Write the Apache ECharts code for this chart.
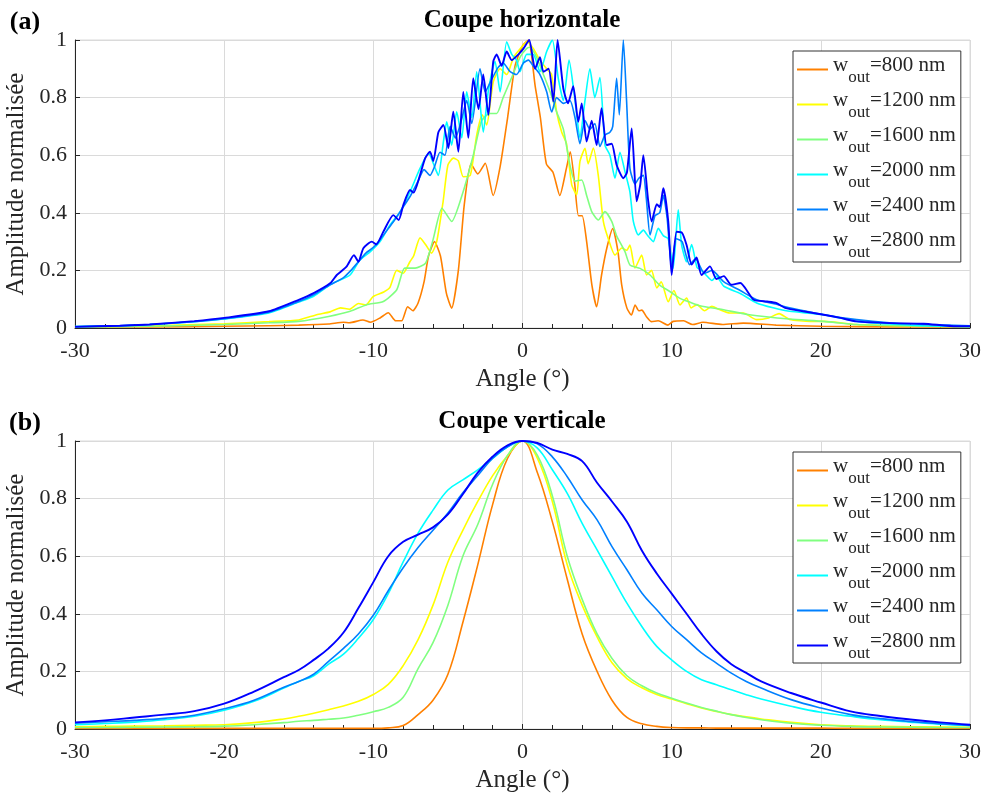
<!DOCTYPE html>
<html><head><meta charset="utf-8">
<script src="https://cdn.jsdelivr.net/npm/echarts@6/dist/echarts.min.js"></script>
<style>html,body{margin:0;padding:0;background:#fff}#c{width:984px;height:796px}</style>
</head><body><div id="c"></div>
<script>
// ---------- DATA ----------
const widths = ['800', '1200', '1600', '2000', '2400', '2800'];
const lineColors = ['#FF8000', '#FFFF00', '#80FF80', '#00FFFF', '#0080FF', '#0000FF'];
const xTicks = [-30, -20, -10, 0, 10, 20, 30];
const yTicks = [0, 0.2, 0.4, 0.6, 0.8, 1];

// (a) Coupe horizontale : [angle, amplitude]
const h800 = [[-30,0.003],[-25,0.004],[-20,0.006],[-17,0.008],[-15,0.01],[-13,0.014],[-12,0.02],[-11.6,0.018],[-10.7,0.028],[-10.2,0.02],[-9.55,0.035],[-9.0,0.053],[-8.5,0.025],[-8.1,0.025],[-7.7,0.074],[-7.35,0.06],[-7.0,0.087],[-6.6,0.16],[-6.3,0.25],[-5.9,0.30],[-5.5,0.25],[-5.1,0.12],[-4.75,0.069],[-4.3,0.2],[-3.9,0.43],[-3.45,0.57],[-3.0,0.535],[-2.5,0.572],[-1.97,0.46],[-1.5,0.56],[-1.0,0.73],[-0.5,0.91],[0,0.98],[0.4,1.0],[0.85,0.84],[1.2,0.73],[1.6,0.57],[2.05,0.54],[2.5,0.46],[2.95,0.556],[3.2,0.612],[3.5,0.50],[3.75,0.39],[4.0,0.39],[4.3,0.30],[4.65,0.15],[4.97,0.074],[5.3,0.184],[5.65,0.277],[6.05,0.345],[6.4,0.265],[6.65,0.15],[7.0,0.069],[7.3,0.045],[7.55,0.08],[7.8,0.06],[8.0,0.062],[8.3,0.04],[8.65,0.022],[9.1,0.025],[9.75,0.01],[10.1,0.023],[10.8,0.025],[11.4,0.012],[12.1,0.02],[13.4,0.012],[14.8,0.017],[17,0.01],[20,0.006],[25,0.004],[30,0.003]];
const h1200 = [[-30,0.004],[-25,0.007],[-20,0.015],[-17,0.022],[-15,0.028],[-13.8,0.046],[-12.9,0.056],[-12.2,0.07],[-11.6,0.065],[-11.0,0.085],[-10.5,0.08],[-10.0,0.11],[-9.3,0.125],[-8.9,0.14],[-8.43,0.2],[-8.0,0.19],[-7.55,0.23],[-7.3,0.25],[-6.87,0.313],[-6.5,0.29],[-6.1,0.26],[-5.75,0.3],[-5.32,0.44],[-5.0,0.566],[-4.64,0.59],[-4.3,0.58],[-3.97,0.525],[-3.5,0.53],[-3.07,0.67],[-2.7,0.74],[-2.4,0.705],[-1.96,0.855],[-1.5,0.9],[-1.06,0.88],[-0.6,0.94],[-0.15,0.97],[0.3,0.995],[0.73,0.97],[1.17,0.93],[1.62,0.90],[1.95,0.88],[2.29,0.75],[2.63,0.68],[2.95,0.64],[3.3,0.497],[3.63,0.462],[3.85,0.578],[4.19,0.624],[4.4,0.57],[4.75,0.625],[5.08,0.53],[5.42,0.37],[5.75,0.31],[6.2,0.253],[6.65,0.278],[6.98,0.27],[7.2,0.288],[7.54,0.208],[7.99,0.253],[8.32,0.184],[8.65,0.2],[9.0,0.139],[9.3,0.16],[9.77,0.091],[10.15,0.13],[10.56,0.08],[11.0,0.104],[11.3,0.07],[11.7,0.081],[12.2,0.06],[12.7,0.075],[13.2,0.064],[13.9,0.052],[14.8,0.052],[15.7,0.029],[16.5,0.035],[17.2,0.05],[17.9,0.03],[19.3,0.023],[20.2,0.023],[22.4,0.012],[25,0.008],[30,0.005]];
const h1600 = [[-30,0.003],[-25,0.006],[-20,0.012],[-17,0.018],[-15,0.023],[-13,0.04],[-11.55,0.058],[-10.45,0.081],[-9.33,0.092],[-8.43,0.133],[-7.9,0.208],[-7.2,0.208],[-6.5,0.225],[-6.0,0.306],[-5.4,0.416],[-4.75,0.37],[-4.0,0.47],[-3.3,0.60],[-2.74,0.72],[-2.2,0.745],[-1.73,0.745],[-1.3,0.8],[-0.72,0.87],[-0.17,0.94],[0.27,0.97],[0.5,0.975],[0.95,0.94],[1.4,0.88],[1.85,0.82],[2.29,0.75],[2.74,0.69],[3.18,0.566],[3.52,0.51],[3.97,0.514],[4.3,0.46],[4.64,0.404],[5.08,0.375],[5.53,0.404],[5.98,0.37],[6.31,0.32],[6.87,0.265],[7.2,0.219],[7.88,0.207],[8.55,0.184],[9.2,0.149],[9.9,0.126],[10.56,0.103],[11.2,0.09],[11.9,0.077],[13.4,0.064],[15.2,0.046],[17.9,0.031],[20.2,0.023],[22.4,0.012],[25,0.008],[30,0.004]];
const h2000 = [[-30,0.005],[-27,0.008],[-25,0.012],[-22,0.022],[-20,0.031],[-17,0.052],[-15,0.09],[-14,0.11],[-12.9,0.15],[-12.3,0.165],[-11.56,0.184],[-10.9,0.236],[-10.2,0.265],[-9.55,0.30],[-8.88,0.358],[-8.2,0.404],[-7.54,0.473],[-6.87,0.554],[-6.3,0.607],[-5.86,0.555],[-5.64,0.53],[-5.3,0.647],[-5.08,0.716],[-4.75,0.635],[-4.41,0.751],[-4.07,0.66],[-3.74,0.82],[-3.4,0.73],[-3.07,0.89],[-2.63,0.68],[-2.3,0.82],[-1.84,0.925],[-1.5,0.82],[-1.06,0.994],[-0.72,0.95],[-0.4,0.93],[-0.17,0.89],[0.28,0.95],[0.72,0.95],[1.17,0.89],[1.62,0.96],[2.0,1.0],[2.4,0.866],[2.74,0.79],[3.12,0.93],[3.52,0.79],[3.85,0.66],[4.19,0.79],[4.52,0.90],[4.85,0.8],[5.19,0.87],[5.53,0.635],[5.86,0.60],[6.2,0.52],[6.53,0.61],[6.87,0.543],[7.2,0.473],[7.43,0.37],[7.76,0.323],[8.1,0.34],[8.4,0.32],[8.77,0.30],[9.1,0.346],[9.45,0.32],[9.77,0.31],[10.1,0.207],[10.44,0.41],[10.67,0.288],[11.0,0.23],[11.34,0.29],[11.7,0.21],[12.0,0.2],[12.3,0.184],[12.7,0.165],[13.0,0.18],[13.5,0.145],[14.6,0.12],[15.7,0.087],[16.8,0.07],[17.9,0.058],[20.2,0.046],[22.4,0.023],[24.6,0.014],[26.9,0.008],[30,0.005]];
const h2400 = [[-30,0.005],[-27,0.008],[-25,0.012],[-22,0.022],[-20,0.032],[-17,0.055],[-15,0.092],[-14,0.115],[-12.9,0.15],[-12,0.175],[-11.5,0.2],[-11,0.23],[-10.5,0.26],[-10,0.28],[-9.5,0.31],[-9,0.345],[-8.5,0.38],[-8,0.42],[-7.5,0.46],[-7,0.51],[-6.6,0.55],[-6.2,0.53],[-5.9,0.56],[-5.53,0.61],[-5.2,0.6],[-4.85,0.7],[-4.5,0.66],[-4.1,0.72],[-3.74,0.79],[-3.4,0.71],[-2.85,0.90],[-2.5,0.82],[-2.1,0.86],[-1.63,0.905],[-1.3,0.92],[-0.83,0.89],[-0.4,0.88],[0.06,0.92],[0.4,0.93],[0.72,0.91],[1.17,0.88],[1.62,0.82],[1.96,0.75],[2.29,0.80],[2.74,0.78],[3.18,0.79],[3.52,0.73],[3.85,0.64],[4.19,0.72],[4.52,0.69],[4.85,0.71],[5.19,0.63],[5.53,0.67],[5.86,0.68],[6.05,0.7],[6.31,0.867],[6.49,0.74],[6.76,1.0],[6.98,0.786],[7.2,0.555],[7.54,0.50],[7.8,0.52],[8.1,0.53],[8.3,0.45],[8.55,0.323],[8.88,0.39],[9.2,0.40],[9.44,0.46],[9.7,0.38],[10.0,0.207],[10.3,0.31],[10.7,0.3],[11.2,0.22],[11.6,0.24],[12.2,0.19],[12.7,0.2],[13.5,0.16],[14.6,0.13],[15.7,0.098],[16.8,0.085],[17.9,0.07],[20.2,0.046],[22.4,0.029],[24.6,0.018],[26.9,0.012],[30,0.008]];
const h2800 = [[-30,0.004],[-27,0.008],[-25,0.012],[-22,0.024],[-20,0.035],[-17,0.058],[-15,0.098],[-14,0.121],[-12.9,0.155],[-12.45,0.184],[-11.8,0.213],[-11.3,0.253],[-11.0,0.23],[-10.67,0.277],[-10.1,0.30],[-9.8,0.29],[-9.33,0.334],[-8.66,0.392],[-8.3,0.375],[-7.99,0.427],[-7.54,0.479],[-7.3,0.47],[-6.87,0.531],[-6.53,0.589],[-6.2,0.612],[-5.98,0.58],[-5.64,0.68],[-5.3,0.705],[-4.97,0.625],[-4.64,0.751],[-4.3,0.612],[-3.97,0.82],[-3.63,0.66],[-3.3,0.867],[-2.95,0.76],[-2.63,0.88],[-2.29,0.74],[-1.96,0.925],[-1.73,0.95],[-1.4,0.91],[-1.06,0.96],[-0.72,0.93],[-0.27,0.95],[0.06,0.97],[0.45,1.0],[0.84,0.90],[1.17,0.94],[1.4,0.89],[1.75,0.9],[2.07,0.786],[2.35,1.0],[2.74,0.83],[3.05,0.78],[3.4,0.84],[3.74,0.716],[3.97,0.78],[4.3,0.647],[4.64,0.72],[4.97,0.635],[5.3,0.763],[5.64,0.635],[5.98,0.64],[6.31,0.566],[6.76,0.52],[7.0,0.54],[7.32,0.693],[7.65,0.44],[7.9,0.5],[8.1,0.60],[8.43,0.44],[8.66,0.37],[9.0,0.43],[9.2,0.42],[9.44,0.485],[9.77,0.37],[10.0,0.184],[10.33,0.334],[10.7,0.33],[11.0,0.288],[11.34,0.22],[11.67,0.245],[12.0,0.184],[12.57,0.214],[13.0,0.17],[13.5,0.18],[14.0,0.15],[14.6,0.156],[15.5,0.098],[16.4,0.092],[17.0,0.087],[17.6,0.07],[18.8,0.058],[20.2,0.046],[21.3,0.035],[22.4,0.023],[24.6,0.017],[26.9,0.015],[29.1,0.006],[30,0.006]];

// (b) Coupe verticale : shared angle grid
const vAngle = [-30,-28,-26,-24,-22,-20,-18,-16,-15,-14,-13,-12,-11,-10,-9,-8,-7,-6,-5,-4,-3,-2,-1,0,1,2,3,4,5,6,7,8,9,10,11,12,13,14,15,16,18,20,22,24,26,28,30];
const v800 = [0.002,0.002,0.002,0.002,0.002,0.002,0.002,0.002, 0.002,0.002,0.002,0.002,0.002,0.002,0.004,0.012,0.05,0.1,0.19,0.37,0.57,0.78,0.94, 1.0, 0.89,0.72,0.52,0.33,0.2,0.1,0.04,0.018,0.009,0.005,0.004,0.004,0.003,0.003,0.003, 0.003,0.003,0.003,0.002,0.002,0.002,0.002,0.002];
const v1200 = [0.008,0.009,0.01,0.011,0.013,0.015,0.022,0.035, 0.044,0.055,0.067,0.08,0.096,0.12,0.155,0.22,0.31,0.43,0.58,0.69,0.79,0.88,0.95, 1.0, 0.94,0.79,0.57,0.43,0.32,0.23,0.175,0.143,0.12,0.104,0.088,0.073,0.061,0.05,0.042, 0.035,0.023,0.015,0.011,0.009,0.008,0.007,0.006];
const v1600 = [0.005,0.005,0.006,0.007,0.008,0.01,0.015,0.022, 0.027,0.03,0.034,0.038,0.048,0.06,0.075,0.11,0.21,0.3,0.43,0.6,0.71,0.85,0.95, 1.0, 0.95,0.81,0.6,0.45,0.33,0.245,0.185,0.15,0.125,0.107,0.09,0.075,0.062,0.05,0.04, 0.032,0.02,0.013,0.009,0.007,0.006,0.005,0.005];
const v2000 = [0.015,0.019,0.024,0.032,0.044,0.065,0.096,0.142, 0.165,0.185,0.225,0.26,0.315,0.38,0.47,0.58,0.68,0.76,0.83,0.865,0.9,0.94,0.98, 1.0, 0.975,0.9,0.818,0.714,0.622,0.529,0.437,0.356,0.287,0.24,0.2,0.171,0.154,0.136,0.119, 0.104,0.079,0.058,0.044,0.032,0.024,0.017,0.012];
const v2400 = [0.02,0.025,0.03,0.037,0.048,0.07,0.1,0.145, 0.165,0.19,0.235,0.28,0.33,0.395,0.48,0.56,0.63,0.69,0.75,0.82,0.88,0.94,0.98, 1.0, 0.99,0.945,0.876,0.795,0.726,0.633,0.553,0.472,0.414,0.356,0.31,0.264,0.229,0.194,0.165, 0.142,0.102,0.073,0.05,0.036,0.026,0.018,0.012];
const v2800 = [0.023,0.03,0.04,0.05,0.062,0.088,0.13,0.18, 0.205,0.24,0.28,0.335,0.42,0.51,0.6,0.65,0.675,0.7,0.745,0.815,0.89,0.946,0.985, 1.0, 0.993,0.97,0.955,0.93,0.855,0.79,0.72,0.62,0.54,0.47,0.40,0.33,0.27,0.225,0.195, 0.165,0.125,0.092,0.061,0.045,0.033,0.023,0.015];

// ---------- CHART ----------
const F = "'Liberation Serif','Times New Roman',serif";
const TXT = '#262626';
const chart = echarts.init(document.getElementById('c'), null, {renderer: 'canvas'});

const topData = [h800, h1200, h1600, h2000, h2400, h2800];
const botData = [v800, v1200, v1600, v2000, v2400, v2800];

function xAxisCfg(gi) {
  return {
    type: 'value', gridIndex: gi, min: xTicks[0], max: xTicks[xTicks.length - 1], interval: 10,
    axisLine: {show: true, onZero: false, lineStyle: {color: TXT, width: 1}},
    axisTick: {show: true, inside: true, length: 5, lineStyle: {color: TXT}},
    minorTick: {show: true, splitNumber: 5, length: 4, lineStyle: {color: TXT}},
    splitLine: {show: true, lineStyle: {color: '#dadada', width: 1}},
    axisLabel: {color: TXT, fontSize: 22, fontFamily: F, margin: 12},
    name: 'Angle (°)', nameLocation: 'middle', nameGap: 39,
    nameTextStyle: {color: TXT, fontSize: 25, fontFamily: F}
  };
}
function yAxisCfg(gi) {
  return {
    type: 'value', gridIndex: gi, min: yTicks[0], max: yTicks[yTicks.length - 1], interval: 0.2,
    axisLine: {show: true, onZero: false, lineStyle: {color: TXT, width: 1}},
    axisTick: {show: true, inside: true, length: 5, lineStyle: {color: TXT}},
    splitLine: {show: true, lineStyle: {color: '#dadada', width: 1}},
    axisLabel: {color: TXT, fontSize: 22, fontFamily: F, margin: 8},
    name: 'Amplitude normalisée', nameLocation: 'middle', nameGap: 42,
    nameTextStyle: {color: TXT, fontSize: 25, fontFamily: F}
  };
}
function legendCfg(prefix, top) {
  return {
    data: widths.map(w => prefix + w),
    orient: 'vertical', left: 793, top: top,
    padding: [2, 5, 1, 4], itemGap: 2, itemWidth: 31, itemHeight: 2, icon: 'rect',
    borderColor: '#333', borderWidth: 1, backgroundColor: '#fff',
    formatter: n => '{w|w}{s|out}{t|=' + n.split('|')[1] + ' nm}',
    textStyle: {
      color: TXT, fontFamily: F, fontSize: 21,
      rich: {
        w: {fontSize: 21, fontFamily: F, color: TXT, lineHeight: 22, verticalAlign: 'top', padding: [2, 0, 0, 0]},
        s: {fontSize: 17, fontFamily: F, color: TXT, lineHeight: 33, verticalAlign: 'bottom'},
        t: {fontSize: 21, fontFamily: F, color: TXT, lineHeight: 22, verticalAlign: 'top', padding: [2, 0, 0, 0]}
      }
    },
    selectedMode: false
  };
}

const series = [];
topData.forEach((d, i) => series.push({
  name: 'a|' + widths[i], type: 'line', xAxisIndex: 0, yAxisIndex: 0,
  data: d, symbol: 'none', showSymbol: false, smooth: 0.2,
  lineStyle: {color: lineColors[i], width: i === 5 ? 1.9 : 1.6},
  itemStyle: {color: lineColors[i]}, clip: true
}));
botData.forEach((vals, i) => series.push({
  name: 'b|' + widths[i], type: 'line', xAxisIndex: 1, yAxisIndex: 1,
  data: vAngle.map((a, j) => [a, vals[j]]), symbol: 'none', showSymbol: false, smooth: 0.4,
  lineStyle: {color: lineColors[i], width: i === 5 ? 1.9 : 1.6},
  itemStyle: {color: lineColors[i]}, clip: true
}));

const titleFont = 'bold 25px ' + F;
chart.setOption({
  animation: false,
  backgroundColor: '#fff',
  grid: [
    {left: 75, top: 40, width: 895, height: 288, show: true, borderColor: '#dadada', borderWidth: 1, backgroundColor: 'transparent', containLabel: false, outerBoundsMode: 'none'},
    {left: 75, top: 441, width: 895, height: 288, show: true, borderColor: '#dadada', borderWidth: 1, backgroundColor: 'transparent', containLabel: false, outerBoundsMode: 'none'}
  ],
  xAxis: [xAxisCfg(0), xAxisCfg(1)],
  yAxis: [yAxisCfg(0), yAxisCfg(1)],
  legend: [legendCfg('a|', 51), legendCfg('b|', 452)],
  graphic: [
    {type: 'text', x: 522, y: 21, style: {text: 'Coupe horizontale', font: titleFont, fill: '#000', textAlign: 'center', textVerticalAlign: 'middle', align: 'center', verticalAlign: 'middle'}},
    {type: 'text', x: 522, y: 422, style: {text: 'Coupe verticale', font: titleFont, fill: '#000', textAlign: 'center', textVerticalAlign: 'middle', align: 'center', verticalAlign: 'middle'}},
    {type: 'text', x: 25, y: 22, style: {text: '(a)', font: 'bold 26px ' + F, fill: '#000', textAlign: 'center', textVerticalAlign: 'middle', align: 'center', verticalAlign: 'middle'}},
    {type: 'text', x: 25, y: 423, style: {text: '(b)', font: 'bold 26px ' + F, fill: '#000', textAlign: 'center', textVerticalAlign: 'middle', align: 'center', verticalAlign: 'middle'}}
  ],
  series: series
});
</script>
</body></html>
